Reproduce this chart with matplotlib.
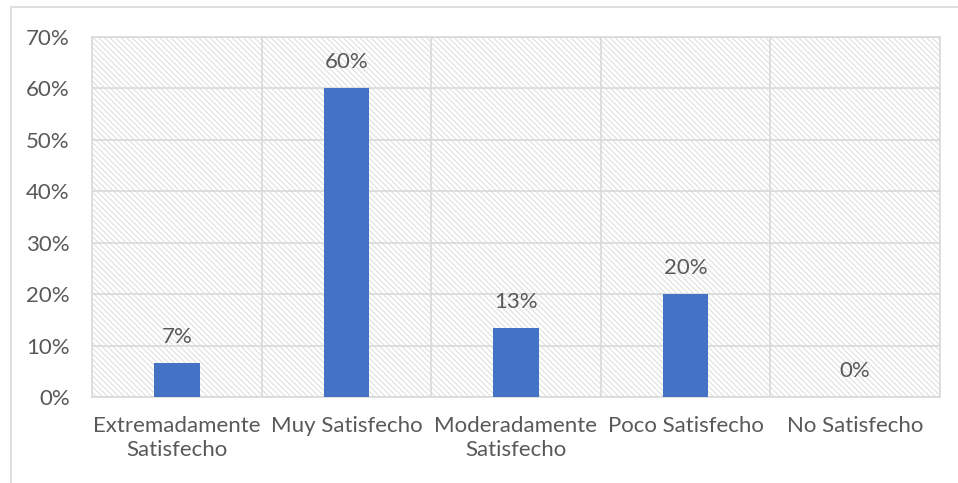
import matplotlib
matplotlib.use("Agg")
import matplotlib.pyplot as plt
from matplotlib.patches import Rectangle
from matplotlib.ticker import PercentFormatter

categories = ["Extremadamente\nSatisfecho", "Muy Satisfecho", "Moderadamente\nSatisfecho",
              "Poco Satisfecho", "No Satisfecho"]
values = [6.67, 60.0, 13.33, 20.0, 0.0]
labels = ["7%", "60%", "13%", "20%", "0%"]
yticks = [0, 10, 20, 30, 40, 50, 60, 70]

plt.rcParams['font.family'] = ['Lato', 'DejaVu Sans']
text_color = '#595959'
grid_color = '#d9d9d9'
bar_color = '#4472c4'
fs = 16

fig = plt.figure(figsize=(9.58, 4.83), dpi=100)
fig.patch.set_facecolor('white')
# outer chart border
fig.patches.append(Rectangle((10.5/958, -0.05), 1.1, 1 - 7/483 + 0.05,
                             transform=fig.transFigure, fill=False,
                             edgecolor=grid_color, linewidth=1.2, zorder=0))

ax = fig.add_axes([92/958, 1 - 397/483, (940 - 92)/958, (397 - 37)/483])
ax.set_xlim(-0.5, len(categories) - 0.5)
ax.set_ylim(0, 70)

# hatched plot area background
plt.rcParams['hatch.color'] = '#e0e0e0'
plt.rcParams['hatch.linewidth'] = 0.8
bg = Rectangle((0, 0), 1, 1, transform=ax.transAxes, facecolor='white',
               edgecolor='#e0e0e0', hatch='\\' * 6, linewidth=0, zorder=0)
ax.add_patch(bg)

x = list(range(len(categories)))
bars = ax.bar(x, values, width=0.27, color=bar_color, zorder=3)

for xi, v, lab in zip(x, values, labels):
    ax.annotate(lab, (xi, v), xytext=(0, 11.5), textcoords='offset points',
                ha='center', va='bottom', fontsize=fs, color=text_color)

ax.set_yticks(yticks)
ax.yaxis.set_major_formatter(PercentFormatter(decimals=0))
ax.set_xticks(x)
ax.set_xticklabels(categories)
ax.set_xticks([i + 0.5 for i in range(len(categories) - 1)], minor=True)
ax.grid(True, axis='y', which='major', color=grid_color, linewidth=1.2, zorder=1)
ax.grid(True, axis='x', which='minor', color=grid_color, linewidth=1.2, zorder=1)
ax.set_axisbelow(True)
ax.tick_params(axis='both', which='both', length=0, labelsize=fs, labelcolor=text_color)
ax.tick_params(axis='y', pad=16)
ax.tick_params(axis='x', pad=14)
for s in ax.spines.values():
    s.set_color(grid_color)
    s.set_linewidth(1.2)

fig.savefig('out.png', dpi=100, facecolor='white')
